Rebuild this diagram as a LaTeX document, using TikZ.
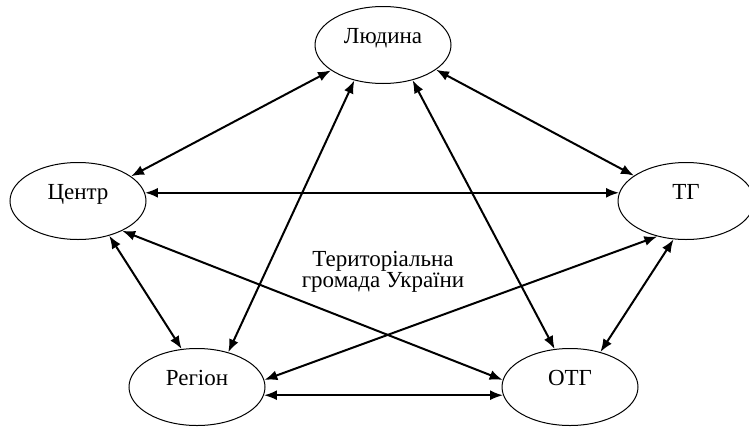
\documentclass[tikz,border=0pt]{standalone}
\usepackage{fontspec}
\setmainfont{Liberation Serif}
\usetikzlibrary{arrows.meta,shapes.geometric}
\tikzset{
  unit/.style={draw,ellipse,line width=0.5pt,inner sep=0pt,minimum width=68pt,minimum height=38.5pt,text height=7pt,text depth=9pt,font=\fontsize{11.5}{13}\selectfont},
  link/.style={{Latex[length=6.5pt,width=5pt]}-{Latex[length=6.5pt,width=5pt]},line width=1pt}
}
\begin{document}
\begin{tikzpicture}[x=0.5pt,y=-0.5pt]
\useasboundingbox (0,0) rectangle (749,429);
\node[unit] (lyudyna) at (383,45) {Людина};
\node[unit] (tsentr) at (78,201) {Центр};
\node[unit] (tg) at (686,201) {ТГ};
\node[unit] (region) at (197,387) {Регіон};
\node[unit] (otg) at (570,387) {ОТГ};
\node[align=center,font=\fontsize{11.5}{10.5}\selectfont] (hromada) at (383,272) {Територіальна\\громада України};
\draw[link] (lyudyna.206) -- (tsentr.25);
\draw[link] (lyudyna.335) -- (tg.154);
\draw[link] (tsentr.7) -- (tg.173);
\draw[link] (tsentr.326) -- (otg.174);
\draw[link] (tsentr.312) -- (region.112);
\draw[link] (lyudyna.231) -- (region.48);
\draw[link] (lyudyna.310) -- (otg.112);
\draw[link] (tg.252) -- (otg.49);
\draw[link] (tg.231) -- (region.6);
\draw[link] (region.353) -- (otg.187);
\end{tikzpicture}
\end{document}
